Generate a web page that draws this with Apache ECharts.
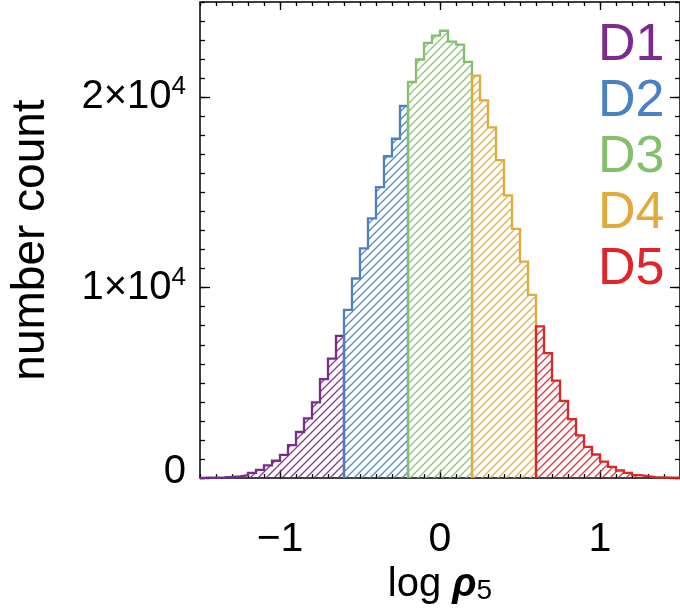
<!DOCTYPE html>
<html><head><meta charset="utf-8">
<script src="https://cdn.jsdelivr.net/npm/echarts@6/dist/echarts.min.js"></script>
<style>html,body{margin:0;padding:0;background:#fff}#c{width:680px;height:610px}</style>
</head><body><div id="c"></div>
<script>
// ---- data ----
const classNames = ['D1', 'D2', 'D3', 'D4', 'D5'];
const classColors = ['#7b2a8e', '#4a80c4', '#84bf6c', '#e2a93c', '#e0252a'];
const classEdges = [-1.5, -0.6, -0.2, 0.2, 0.6, 1.5];
const binWidth = 0.05;
const d1Counts = [20, 30, 40, 60, 90, 155, 275, 430, 670, 910, 1220, 1735, 2420, 3140, 3980, 5200, 6270, 7470];
const d2Counts = [8830, 10480, 12060, 13640, 15275, 16900, 17820, 19540];
const d3Counts = [20800, 21980, 22850, 23230, 23490, 22920, 22760, 21860];
const d4Counts = [21130, 19830, 18420, 16700, 14850, 13090, 11370, 9620];
const d5Counts = [7970, 6560, 5120, 4050, 3100, 2240, 1640, 1240, 860, 590, 400, 270, 160, 100, 50, 40, 30, 20];
const xTickValues = [-1, 0, 1];
const yTickValues = [0, 10000, 20000];
const xAxisTitle = 'log ';
const xAxisSymbol = 'ρ';
const xAxisSub = '5';
const yAxisTitle = 'number count';

const allCounts = [d1Counts, d2Counts, d3Counts, d4Counts, d5Counts];
const FONT = 'Liberation Sans';

function hatch(color) {
  const s = 8, c = document.createElement('canvas');
  c.width = s; c.height = s;
  const g = c.getContext('2d');
  g.strokeStyle = color; g.globalAlpha = 1; g.lineWidth = 1.4;
  g.beginPath();
  g.moveTo(-1, s + 1); g.lineTo(s + 1, -1);
  g.moveTo(-1, 1); g.lineTo(1, -1);
  g.moveTo(s - 1, s + 1); g.lineTo(s + 1, s - 1);
  g.stroke();
  return c;
}

const series = classNames.map((name, k) => {
  const counts = allCounts[k];
  const lo = classEdges[k], hi = classEdges[k + 1];
  const data = [[lo, 0]];
  counts.forEach((v, i) => data.push([+(lo + (i + 1) * binWidth).toFixed(4), v]));
  data.push([hi, 0]);
  return {
    name, type: 'line', step: 'start', data, symbol: 'none', clip: false,
    xAxisIndex: 0, yAxisIndex: 0, z: 3 + k,
    lineStyle: { color: classColors[k], width: 2.3, join: 'miter', cap: 'butt' },
    itemStyle: { color: classColors[k] },
    areaStyle: { color: { image: hatch(classColors[k]), repeat: 'repeat' }, opacity: 0.9 },
    emphasis: { disabled: true },
    animation: false
  };
});

const tickLine = { color: '#000', width: 1.3 };
function xAx(pos, major, extra) {
  return Object.assign({
    type: 'value', min: -1.5, max: 1.5, position: pos, offset: 0,
    axisLine: { show: false, onZero: false },
    splitLine: { show: false },
    axisLabel: { show: false },
    axisTick: major
      ? { show: true, inside: true, length: 8, customValues: xTickValues, lineStyle: tickLine }
      : { show: true, inside: true, length: 4, lineStyle: tickLine },
  }, major ? {} : { interval: 0.1 }, extra || {});
}
function yAx(pos, major, extra) {
  return Object.assign({
    type: 'value', min: 0, max: 25000, position: pos, offset: 0,
    axisLine: { show: false, onZero: false },
    splitLine: { show: false },
    axisLabel: { show: false },
    axisTick: major
      ? { show: true, inside: true, length: 10, customValues: yTickValues, lineStyle: tickLine }
      : { show: true, inside: true, length: 5, lineStyle: tickLine },
  }, major ? {} : { interval: 1000 }, extra || {});
}

const option = {
  backgroundColor: '#fff',
  animation: false,
  grid: { left: 199, top: 2, width: 485, height: 485, show: true, borderColor: '#000', borderWidth: 1.5, backgroundColor: 'transparent' },
  legend: {
    orient: 'vertical', left: 593, top: 18, padding: 0, itemGap: 0,
    itemWidth: 0, itemHeight: 0, icon: 'none', selectedMode: false,
    textStyle: { fontFamily: FONT, fontSize: 52, lineHeight: 56 },
    data: classNames.map((n, k) => ({ name: n, icon: 'none', textStyle: { color: classColors[k], fontFamily: FONT, fontSize: 52, lineHeight: 56 } }))
  },
  xAxis: [
    xAx('bottom', true, {
      axisLabel: {
        show: true, customValues: xTickValues, margin: 41, color: '#000', fontSize: 41, fontFamily: FONT,
        formatter: v => (v < 0 ? '\u2212' + Math.abs(v) : String(v))
      },
      name: '{a|' + xAxisTitle + '}{b|' + xAxisSymbol + '}{c|' + xAxisSub + '}',
      nameLocation: 'middle', nameGap: 76,
      nameTextStyle: {
        color: '#000', fontFamily: FONT, fontSize: 40,
        rich: {
          a: { fontSize: 40, fontFamily: FONT, color: '#000' },
          b: { fontSize: 40, fontFamily: FONT, fontStyle: 'italic', fontWeight: 'bold', color: '#000' },
          c: { fontSize: 28, fontFamily: FONT, color: '#000', padding: [0, 0, -12, 0] }
        }
      }
    }),
    xAx('bottom', false),
    xAx('top', true),
    xAx('top', false)
  ],
  yAxis: [
    yAx('left', true, {
      axisLabel: {
        show: true, customValues: yTickValues, margin: 14, color: '#000', fontSize: 40, fontFamily: FONT,
        formatter: v => v === 0 ? '{z|0}' : '{m|' + (v / 10000) + '×10}{s|4}',
        rich: {
          m: { fontSize: 40, fontFamily: FONT, color: '#000' },
          z: { fontSize: 40, fontFamily: FONT, color: '#000', padding: [0, 0, 12, 0] },
          s: { fontSize: 26, fontFamily: FONT, color: '#000', padding: [0, 0, 20, 0] }
        }
      },
      name: yAxisTitle, nameLocation: 'middle', nameGap: 146, nameRotate: 90,
      nameTextStyle: { color: '#000', fontFamily: FONT, fontSize: 46 }
    }),
    yAx('left', false),
    yAx('right', true),
    yAx('right', false)
  ],
  series
};

const chart = echarts.init(document.getElementById('c'), null, { renderer: 'canvas' });
chart.setOption(option);
</script>
</body></html>
